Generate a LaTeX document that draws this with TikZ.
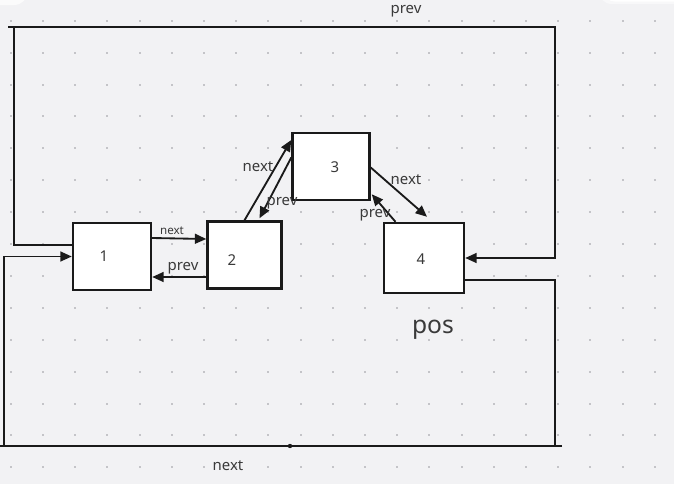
\documentclass[tikz,border=0pt]{standalone}
\usepackage{fontspec}
\setmainfont{Noto Sans}
\definecolor{llBack}{HTML}{F2F2F4}
\definecolor{llDot}{HTML}{C4C4C8}
\definecolor{llInk}{HTML}{1A1A1A}
\definecolor{llText}{HTML}{3A3A3A}
\usetikzlibrary{arrows.meta,calc}

\begin{document}
\begin{tikzpicture}[
  x=0.02cm,y=-0.02cm,
  cell/.style={draw=llInk,line width=1.4pt,fill=white,inner sep=0pt},
  lbl/.style={text=llText,font=\fontsize{8.5}{10}\selectfont,inner sep=0pt},
  tiny/.style={lbl,font=\fontsize{6.6}{8}\selectfont},
  link/.style={draw=llInk,line width=1.05pt},
  >={Triangle[length=6.5pt,width=5.6pt]}
]
% background and dot grid
\fill[llBack] (0,0) rectangle (674,484);
\useasboundingbox (0,0) rectangle (674,484);
\fill[white,opacity=0.7,rounded corners=8pt] (-20,-20) rectangle (28,5);
\fill[white,opacity=0.5,rounded corners=8pt] (598,-20) rectangle (690,4);
\fill[white,rounded corners=6pt] (604,-20) rectangle (690,1.5);
\foreach \i in {0,...,20}
  \foreach \j in {0,...,14}
    \fill[llDot] ($(10.7+32.2*\i,20.7+31.9*\j)+(-1,-1)$) rectangle +(2,2);

% list cells
\node[cell,minimum width=1.56cm,minimum height=1.34cm] (c1) at (112,256.5) {};
\node[cell,minimum width=1.48cm,minimum height=1.34cm] (c2) at (244.5,255) {};
\node[cell,minimum width=1.54cm,minimum height=1.34cm] (c3) at (331,166.5) {};
\node[cell,minimum width=1.60cm,minimum height=1.40cm] (c4) at (424,258) {};
\node[lbl] (n1) at (104,256) {1};
\node[lbl] (n2) at (232,260) {2};
\node[lbl] (n3) at (335,167) {3};
\node[lbl] (n4) at (421,259) {4};

% neighbour links
\draw[link,->] ($(c1.east)+(0,-18.5)$) -- ($(c2.west)+(0,-16)$);
\draw[link,->] ($(c2.west)+(0,22)$) -- ($(c1.east)+(0,20.5)$);
\draw[link,->] (c2.north) -- ($(c3.west)+(0,-26.5)$);
\draw[link,->] ($(c3.west)+(0,-9)$) -- ($(c2.north)+(15,-2)$);
\draw[link,->] ($(c3.east)+(0,1)$) -- ($(c4.north)+(3,-5)$);
\draw[link,->] ($(c4.north west)+(12.7,0)$) -- ($(c3.south east)+(1,-7)$);
\node[tiny] (l12) at (172,231) {next};
\node[lbl]  (l21) at (183,268) {prev};
\node[lbl]  (l23) at (258,167) {next};
\node[lbl]  (l32) at (282,203) {prev};
\node[lbl]  (l34) at (406,180) {next};
\node[lbl]  (l43) at (375,215) {prev};

% wrap-around links
\coordinate (tl) at (14,27);
\coordinate (tr) at (555,27);
\coordinate (br) at (555,446);
\coordinate (bl) at (4,446);
\draw[link] ($(c1.west)+(0,-11.5)$) -| (tl);
\draw[link,->] (8,27) -- (tr) |- (c4.east);
\draw[link] ($(c4.east)+(0,22)$) -| (br);
\draw[link] (562,446) -- (0,446);
\draw[link,->] (bl) |- (c1.west);
\fill[llInk] (290,446) circle (2.2);
\node[lbl] (ltop) at (406,11) {prev};
\node[lbl] (lbot) at (228,466) {next};

\node[lbl,font=\fontsize{14}{16}\selectfont] (pos) at (433,330) {pos};
\end{tikzpicture}
\end{document}
